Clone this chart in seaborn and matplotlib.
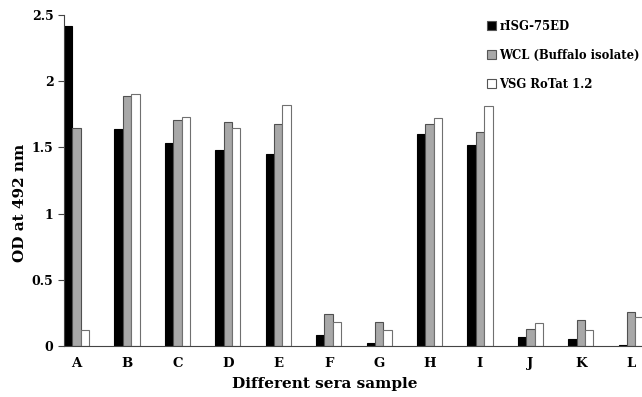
import pandas as pd
import numpy as np
import matplotlib
matplotlib.use("Agg")
import matplotlib.pyplot as plt
import seaborn as sns

samples = ["A", "B", "C", "D", "E", "F", "G", "H", "I", "J", "K", "L"]
antigens = ["rISG-75ED", "WCL (Buffalo isolate)", "VSG RoTat 1.2"]
risg = [2.42, 1.64, 1.53, 1.48, 1.45, 0.08, 0.02, 1.60, 1.52, 0.07, 0.05, 0.01]
wcl = [1.65, 1.89, 1.71, 1.69, 1.68, 0.24, 0.18, 1.68, 1.62, 0.13, 0.20, 0.26]
vsg = [0.12, 1.90, 1.73, 1.65, 1.82, 0.18, 0.12, 1.72, 1.81, 0.17, 0.12, 0.22]
yticks = [0, 0.5, 1, 1.5, 2, 2.5]
ytick_labels = ["0", "0.5", "1", "1.5", "2", "2.5"]

df = pd.DataFrame({
    "sample": samples * 3,
    "antigen": [antigens[0]] * 12 + [antigens[1]] * 12 + [antigens[2]] * 12,
    "od": risg + wcl + vsg,
})

sns.set_style("white")
plt.rcParams["font.family"] = ["DejaVu Serif"]
plt.rcParams["font.weight"] = "bold"
plt.rcParams["text.color"] = "black"
plt.rcParams["xtick.color"] = "black"
plt.rcParams["ytick.color"] = "black"
plt.rcParams["axes.labelcolor"] = "black"

fig = plt.figure(figsize=(6.42, 3.97), dpi=100)
ax = fig.add_axes([64 / 642, 51 / 397, 605 / 642, 331 / 397])

palette = {antigens[0]: "#000000", antigens[1]: "#a8a8a8", antigens[2]: "#ffffff"}
sns.barplot(data=df, x="sample", y="od", hue="antigen", order=samples,
            hue_order=antigens, palette=palette, width=0.5, ax=ax,
            edgecolor="#555555", linewidth=0.8, errorbar=None)

# outline colours per series
for cont, ec in zip(ax.containers, ["#000000", "#505050", "#707070"]):
    for bar in cont:
        bar.set_edgecolor(ec)

ax.set_xlim(-0.25, 11.75)
ax.set_ylim(0, 2.5)
ax.set_yticks(yticks)
ax.set_yticklabels(ytick_labels, fontsize=9, fontweight="bold")
ax.set_xticks(range(len(samples)))
ax.set_xticklabels(samples, fontsize=9.5, fontweight="bold")
ax.set_xticks(np.arange(-0.25, 12, 0.5), minor=True)
ax.tick_params(axis="x", which="major", length=0, pad=8)
ax.tick_params(axis="x", which="minor", length=5, width=0.8, color="#444444", direction="out")
ax.tick_params(axis="y", length=4, width=0.8, color="#444444", direction="out", left=True)

for side in ["top", "right"]:
    ax.spines[side].set_visible(False)
for side in ["left", "bottom"]:
    ax.spines[side].set_color("#444444")
    ax.spines[side].set_linewidth(0.8)

ax.set_xlabel("Different sera sample", fontsize=11, fontweight="bold")
ax.set_ylabel("OD at 492 nm", fontsize=11, fontweight="bold")
ax.xaxis.set_label_coords(325 / 642, 6 / 397, transform=fig.transFigure)
ax.yaxis.set_label_coords(27 / 642, 1 - 203 / 397, transform=fig.transFigure)
ax.xaxis.label.set_va("bottom")

leg = ax.legend(loc="upper left", bbox_to_anchor=(476 / 642, 1 - 9 / 397),
                bbox_transform=fig.transFigure, frameon=False,
                handlelength=0.8, handleheight=0.8, handletextpad=0.3,
                labelspacing=1.38, prop={"size": 8.4, "weight": "bold"})

fig.savefig("out.png", dpi=100)
